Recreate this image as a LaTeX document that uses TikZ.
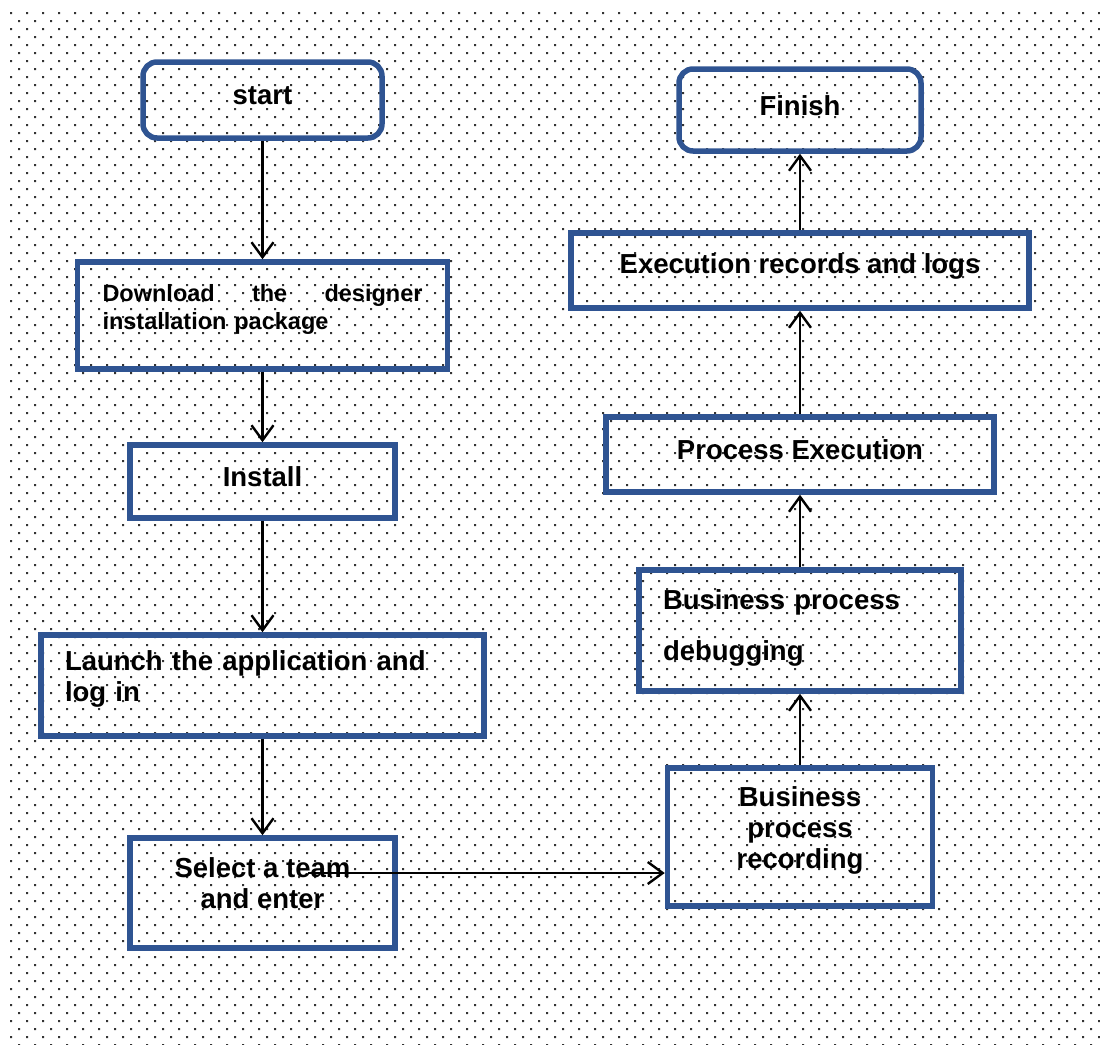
\documentclass[tikz,border=0pt]{standalone}
\usepackage{fontspec}
\setmainfont{Liberation Sans}
\usetikzlibrary{arrows.meta}
\definecolor{boxblue}{RGB}{47,84,146}
\definecolor{dotgray}{RGB}{51,51,51}
\newcommand{\lines}[2][c]{\raisebox{6pt}[\height][\depth]{\begin{tabular}{@{}#1@{}}#2\end{tabular}}}
\newcommand{\word}[1]{\raisebox{4.5pt}[\height][\depth]{#1}}

\begin{document}
\begin{tikzpicture}[x=1pt, y=-1pt,
    stepbox/.style={draw=boxblue, line width=5.5pt, inner sep=0pt, font=\bfseries\fontsize{27.5}{31}\selectfont},
    endbox/.style={stepbox, rounded corners=14pt},
    flow/.style={line width=2.4pt, -{Straight Barb[length=15pt, width=22pt]}}]
    \useasboundingbox (0,0) rectangle (1100,1044);
    \foreach \j in {0,...,64} { \fill[dotgray] \foreach \i in {0,...,68} { (10+16*\i, 12+16*\j) rectangle ++(2,2) (18+16*\i, 20+16*\j) rectangle ++(2,2) }; } % dotted paper
    % left column, going down
    \node[endbox, minimum width=239pt, minimum height=76pt] (start) at (262.5,100) {\word{start}};
    \node[stepbox, font=\bfseries\fontsize{23.5}{28}\selectfont, text width=320pt, inner xsep=25pt, minimum height=107pt] (download) at (262.5,315.5) {\lines[l]{\makebox[320pt][l]{Download\hfill the\hfill designer}\\installation package}};
    \node[stepbox, minimum width=265pt, minimum height=73pt] (install) at (262.5,481.5) {\word{Install}};
    \node[stepbox, text width=395pt, inner xsep=24pt, minimum height=101pt] (launch) at (262.5,685.5) {\lines[l]{Launch the application and\\log in}};
    \node[stepbox, minimum width=265pt, minimum height=110pt] (select) at (262.5,893) {\lines{Select a team\\and enter}};
    % right column, going up
    \node[stepbox, minimum width=265pt, minimum height=138pt] (recording) at (800,837) {\lines{Business\\process\\recording}};
    \node[stepbox, font=\bfseries\fontsize{27.5}{51}\selectfont, text width=274pt, inner xsep=24pt, minimum height=121pt] (debugging) at (800,630.5) {\lines[l]{Business process\\debugging}};
    \node[stepbox, minimum width=388pt, minimum height=75pt] (procexec) at (800,454.5) {\word{Process Execution}};
    \node[stepbox, minimum width=458pt, minimum height=75pt] (records) at (800,270.5) {\word{Execution records and logs}};
    \node[endbox, minimum width=242pt, minimum height=82pt] (finish) at (800,110) {\word{Finish}};
    \coordinate (teamout) at (308,873);
    \draw[flow] (start) -- (download);
    \draw[flow] (download) -- (install);
    \draw[flow] (install) -- (launch);
    \draw[flow] (launch) -- (select);
    \draw[flow] (teamout) -- (teamout -| recording.west);
    \draw[flow] (recording) -- (debugging);
    \draw[flow] (debugging) -- (procexec);
    \draw[flow] (procexec) -- (records);
    \draw[flow] (records) -- (finish);
\end{tikzpicture}
\end{document}
